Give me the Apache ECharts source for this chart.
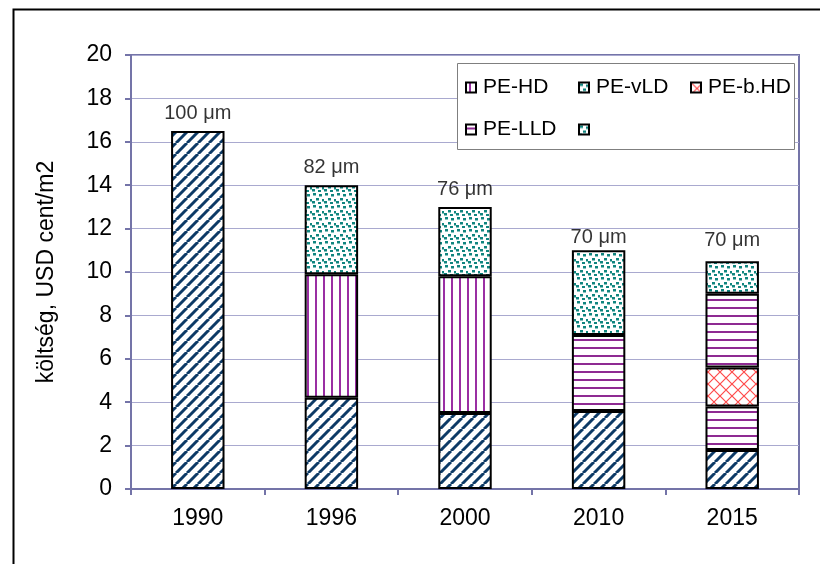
<!DOCTYPE html>
<html><head><meta charset="utf-8">
<script src="https://cdn.jsdelivr.net/npm/echarts@6/dist/echarts.min.js"></script>
<style>html,body{margin:0;padding:0;background:#fff}#c{width:820px;height:564px}</style>
</head><body><div id="c"></div>
<script>
// ---- data ----
const categories = ['1990', '1996', '2000', '2010', '2015'];
const baseLayer   = [16.5, 4.2, 3.5, 3.6, 1.8];        // diagonal navy
const peHD        = [null, 5.7, 6.3, null, null];      // vertical purple
const peLLD       = [null, null, null, 3.5, 2.0];      // horizontal purple
const peBHD       = [null, null, null, null, 1.8];     // red crosshatch
const peLLDUpper  = [null, null, null, null, 3.4];     // horizontal purple (upper)
const peVLD       = [null, 4.1, 3.2, 3.9, null];       // teal dots
const unnamedTop  = [null, null, null, null, 1.5];     // teal dots (unnamed)
const thicknessLabels = ['100 μm', '82 μm', '76 μm', '70 μm', '70 μm'];
const yMin = 0, yMax = 20, yStep = 2;

// ---- styles ----
const FONT = 'Liberation Sans, Arial, sans-serif';
const labelGap = [7, 7, 7, 2, 10];

function tile(w, h, draw) {
  const c = document.createElement('canvas');
  c.width = w; c.height = h;
  const g = c.getContext('2d');
  g.fillStyle = '#fff'; g.fillRect(0, 0, w, h);
  draw(g);
  return { image: c, repeat: 'repeat' };
}
const diagPat = tile(11, 11, g => {
  g.strokeStyle = '#0d3a66'; g.lineWidth = 3;
  [-11, 0, 11].forEach(k => { g.beginPath(); g.moveTo(k, 11); g.lineTo(k + 11, 0); g.stroke(); });
});
const vertPat = tile(8, 8, g => { g.fillStyle = '#9a2fa3'; g.fillRect(3, 0, 2, 8); });
const horzPat = tile(8, 8, g => { g.fillStyle = '#8e2a92'; g.fillRect(0, 3, 8, 2); });
const dotPat = tile(12, 12, g => {
  g.fillStyle = '#10857f';
  [[1,1],[7,2],[4,6],[10,7],[0,9],[6,10]].forEach(p => g.fillRect(p[0], p[1], 3, 2.5));
});
const crossPat = tile(12, 12, g => {
  g.strokeStyle = '#ff4a4a'; g.lineWidth = 1.2;
  g.beginPath(); g.moveTo(0, 0); g.lineTo(12, 12); g.moveTo(12, 0); g.lineTo(0, 12); g.stroke();
});

const totals = categories.map((_, i) =>
  [baseLayer, peHD, peLLD, peBHD, peLLDUpper, peVLD, unnamedTop]
    .reduce((s, a) => s + (a[i] || 0), 0));

function barSeries(name, data, pat) {
  return {
    name, type: 'bar', stack: 'cost', data, barWidth: '40%',
    itemStyle: { color: pat, borderColor: '#000', borderWidth: 2 },
    emphasis: { disabled: true }, silent: true, z: 2
  };
}

const legendCommon = {
  itemWidth: 10, itemHeight: 10, icon: 'rect', padding: 0, itemGap: 0,
  selectedMode: false, z: 6,
  textStyle: { fontSize: 21, color: '#000', fontFamily: FONT, padding: [0, 0, 0, 2] }
};

const option = {
  animation: false,
  backgroundColor: '#fff',
  textStyle: { fontFamily: FONT },
  grid: { left: 131, right: 21, top: 55, bottom: 75, show: true, borderColor: '#7474a8', borderWidth: 2 },
  legend: [
    Object.assign({ data: ['PE-HD'],   left: 465, top: 77 }, legendCommon),
    Object.assign({ data: ['PE-vLD'],  left: 578, top: 77 }, legendCommon),
    Object.assign({ data: ['PE-b.HD'], left: 690, top: 77 }, legendCommon),
    Object.assign({ data: ['PE-LLD'],  left: 465, top: 119 }, legendCommon),
    Object.assign({ data: ['\u00a0'],  left: 578, top: 119 }, legendCommon)
  ],
  xAxis: {
    type: 'category', data: categories,
    axisLine: { lineStyle: { color: '#7474a8', width: 2 } },
    axisTick: { show: true, length: 6, lineStyle: { color: '#7474a8', width: 2 } },
    axisLabel: { color: '#000', fontSize: 23, margin: 18, fontFamily: FONT },
    splitLine: { show: false }
  },
  yAxis: {
    type: 'value', min: yMin, max: yMax, interval: yStep,
    name: 'költség, USD cent/m2', nameLocation: 'middle', nameGap: 73,
    nameTextStyle: { fontSize: 23, color: '#000', fontFamily: FONT },
    axisLine: { show: true, lineStyle: { color: '#7474a8', width: 2 } },
    axisTick: { show: true, length: 6, lineStyle: { color: '#7474a8', width: 2 } },
    axisLabel: { color: '#000', fontSize: 23, margin: 19, fontFamily: FONT },
    splitLine: { show: true, lineStyle: { color: '#a9a9cf', width: 1 } }
  },
  graphic: [
    { type: 'rect', left: 11, top: 7, shape: { width: 900, height: 700 },
      style: { fill: 'none', stroke: '#000', lineWidth: 2 }, z: 10, silent: true },
    { type: 'rect', left: 457, top: 63, shape: { width: 337, height: 86 },
      style: { fill: '#fff', stroke: '#7f7f7f', lineWidth: 1 }, z: 3, silent: true }
  ],
  series: [
    barSeries('PE', baseLayer, diagPat),
    barSeries('PE-HD', peHD, vertPat),
    barSeries('PE-LLD', peLLD, horzPat),
    barSeries('PE-b.HD', peBHD, crossPat),
    barSeries('PE-LLD', peLLDUpper, horzPat),
    barSeries('PE-vLD', peVLD, dotPat),
    barSeries('\u00a0', unnamedTop, dotPat),
    {
      name: 'labels', type: 'scatter', silent: true, symbolSize: 1,
      itemStyle: { color: 'rgba(0,0,0,0)' },
      data: totals.map((t, i) => ({
        value: t,
        label: { show: true, position: 'top', distance: labelGap[i],
                 formatter: thicknessLabels[i], fontSize: 20, color: '#000', fontFamily: FONT }
      })),
      z: 5
    }
  ]
};
echarts.init(document.getElementById('c'), null, { renderer: 'canvas' }).setOption(option);
</script></body></html>
